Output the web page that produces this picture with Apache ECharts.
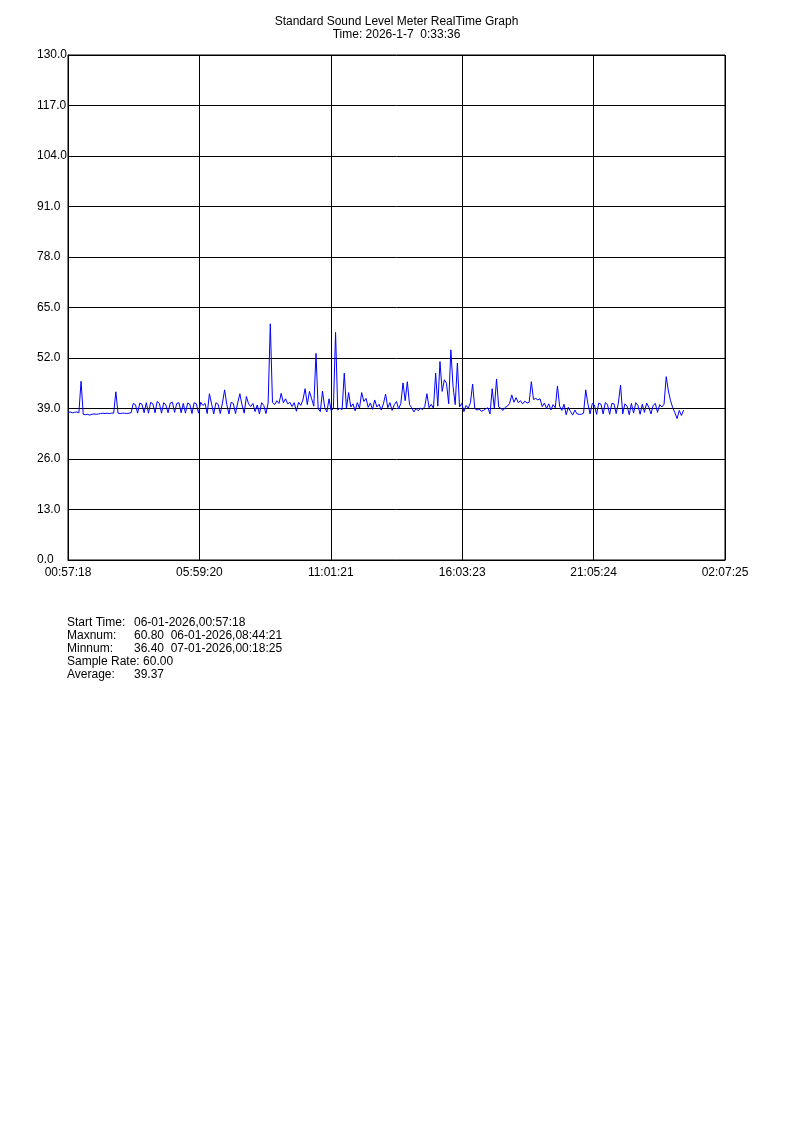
<!DOCTYPE html>
<html>
<head>
<meta charset="utf-8">
<title>Standard Sound Level Meter RealTime Graph</title>
<script src="https://cdn.jsdelivr.net/npm/echarts@6.0.0/dist/echarts.min.js"></script>
<style>
  html, body { margin: 0; padding: 0; background: #fff; }
  #chart { width: 793px; height: 1121px; }
</style>
</head>
<body>
<div id="chart"></div>
<script>
// one reading every 5 minutes, starting 06-01-2026 00:57:18
var sampleSeconds = 300
var axisSpanSeconds = 90607
var xTickLabels = ['00:57:18', '05:59:20', '11:01:21', '16:03:23', '21:05:24', '02:07:25']

var levels = [
  38.0, 38.1, 37.9, 38.0, 38.1, 37.9, 46.0, 37.5, 37.4, 37.5,
  37.3, 37.5, 37.6, 37.5, 37.6, 37.7, 37.8, 37.7, 37.8, 37.7,
  37.8, 37.8, 43.3, 37.8, 37.7, 37.8, 37.8, 37.7, 37.8, 37.9,
  40.3, 40.0, 37.8, 40.4, 40.1, 37.9, 40.5, 37.8, 40.6, 40.2,
  37.9, 40.8, 40.3, 37.8, 40.5, 39.9, 37.9, 40.4, 40.6, 38.0,
  40.3, 40.5, 37.9, 40.3, 37.8, 40.4, 40.1, 37.7, 40.5, 40.2,
  37.8, 40.6, 39.8, 40.3, 37.7, 42.8, 40.2, 37.6, 40.5, 40.1,
  37.7, 40.4, 43.8, 40.0, 37.6, 40.6, 40.3, 37.7, 40.4, 42.8,
  39.9, 37.8, 42.1, 40.2, 39.5, 40.3, 38.2, 39.9, 37.6, 40.5,
  39.8, 37.7, 40.4, 60.8, 40.6, 40.0, 41.0, 40.3, 42.9, 40.5,
  41.5, 40.2, 40.6, 39.5, 40.5, 38.3, 40.6, 39.8, 41.2, 44.1,
  40.0, 43.4, 41.5, 39.6, 53.2, 39.0, 38.2, 43.5, 39.3, 38.1,
  41.5, 38.4, 39.0, 58.6, 38.6, 39.1, 38.7, 48.1, 39.0, 43.1,
  39.4, 40.2, 38.4, 40.5, 39.1, 43.1, 40.8, 41.6, 39.3, 40.4,
  38.8, 41.2, 39.4, 40.1, 38.6, 40.2, 42.7, 39.2, 40.5, 38.5,
  40.0, 40.8, 38.9, 40.3, 45.6, 41.0, 45.9, 40.0, 39.2, 38.1,
  39.0, 38.4, 39.1, 38.7, 39.5, 42.8, 39.2, 40.1, 39.0, 48.1,
  39.6, 51.1, 43.4, 46.4, 45.5, 40.2, 54.1, 44.7, 40.0, 50.7,
  39.4, 40.3, 38.2, 39.8, 39.1, 40.5, 45.3, 39.0, 38.6, 38.9,
  38.3, 38.5, 38.9, 39.2, 37.6, 44.1, 39.0, 46.6, 39.4, 39.0,
  38.5, 39.3, 39.6, 40.3, 42.5, 40.6, 41.8, 40.5, 41.0, 40.2,
  40.9, 40.4, 40.6, 45.9, 41.3, 41.6, 41.2, 41.5, 39.5, 40.4,
  39.0, 40.2, 38.6, 40.0, 39.2, 44.8, 39.6, 38.5, 40.1, 37.4,
  39.3, 38.2, 37.3, 38.6, 37.6, 37.5, 37.5, 37.8, 43.8, 40.2,
  37.6, 40.3, 39.9, 37.5, 40.4, 40.1, 37.6, 40.5, 40.0, 37.5,
  40.3, 40.2, 37.7, 40.4, 45.0, 37.6, 40.2, 39.6, 37.4, 40.3,
  37.8, 40.5, 39.8, 37.5, 40.1, 38.0, 40.4, 39.3, 37.6, 39.8,
  40.3, 38.0, 40.0, 39.4, 40.1, 47.2, 43.5, 41.0, 39.2, 37.9,
  36.4, 38.5, 37.2, 38.6
]

var titleLines = ['Standard Sound Level Meter RealTime Graph', 'Time: 2026-1-7  0:33:36']
var statNames = ['Start Time:', 'Maxnum:', 'Minnum:', 'Sample Rate: 60.00', 'Average:']
var statValues = ['06-01-2026,00:57:18', '60.80  06-01-2026,08:44:21', '36.40  07-01-2026,00:18:25', '', '39.37']

var font = '"Liberation Sans", Arial, sans-serif'
var tickStep = axisSpanSeconds / 5

var seriesData = levels.map(function (v, i) { return [i * sampleSeconds, v] })

var graphics = []
titleLines.forEach(function (t, i) {
  graphics.push({
    type: 'text', left: 'center', top: 16 + i * 13,
    style: { text: t, fill: '#000', font: '12px ' + font }
  })
})
statNames.forEach(function (t, i) {
  graphics.push({
    type: 'text', left: 67, top: 617 + i * 13,
    style: { text: t, fill: '#000', font: '12px ' + font }
  })
  if (statValues[i]) {
    graphics.push({
      type: 'text', left: 134, top: 617 + i * 13,
      style: { text: statValues[i], fill: '#000', font: '12px ' + font }
    })
  }
})

var option = {
  backgroundColor: '#fff',
  animation: false,
  graphic: graphics,
  grid: {
    left: 68,
    right: 68,
    top: 55,
    bottom: 561,
    show: true,
    borderColor: '#000',
    borderWidth: 1
  },
  xAxis: {
    type: 'value',
    min: 0,
    max: axisSpanSeconds,
    interval: tickStep,
    axisLine: { lineStyle: { color: '#000', width: 1 } },
    axisTick: { show: false },
    splitLine: { show: true, lineStyle: { color: '#000', width: 1 } },
    axisLabel: {
      color: '#000',
      fontFamily: font,
      fontSize: 12,
      margin: 7,
      showMinLabel: true,
      showMaxLabel: true,
      formatter: function (v) { return xTickLabels[Math.round(v / tickStep)] }
    }
  },
  yAxis: {
    type: 'value',
    min: 0,
    max: 130,
    interval: 13,
    axisLine: { show: true, lineStyle: { color: '#000', width: 1 } },
    axisTick: { show: false },
    splitLine: { show: true, lineStyle: { color: '#000', width: 1 } },
    axisLabel: {
      color: '#000',
      fontFamily: font,
      fontSize: 12,
      align: 'left',
      verticalAlign: 'middle',
      margin: 31,
      formatter: function (v) { return v.toFixed(1) }
    }
  },
  series: [
    {
      type: 'line',
      data: seriesData,
      showSymbol: false,
      lineStyle: { color: '#0000ff', width: 1 },
      itemStyle: { color: '#0000ff' }
    }
  ]
}

var myChart = echarts.init(document.getElementById('chart'), null, { renderer: 'canvas' })
myChart.setOption(option)
</script>
</body>
</html>
